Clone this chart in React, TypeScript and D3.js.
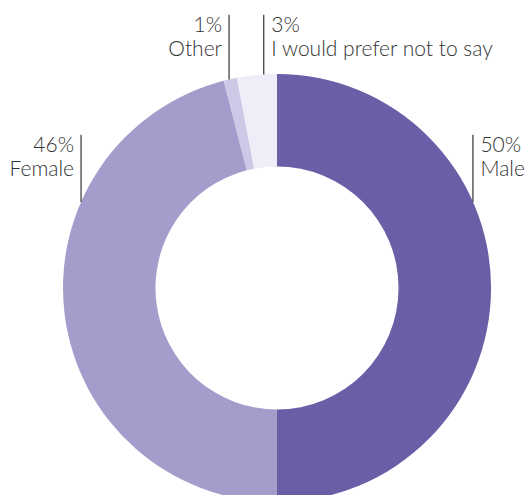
import React from "react";
import * as d3 from "d3";

const categories = ["Male", "Female", "Other", "I would prefer not to say"];
const values = [50, 46, 1, 3];
const colors = ["#6a5fa7", "#a49dcc", "#cdc8e6", "#efedf8"];

// label layout: angle (radians, clockwise from top) where the leader line meets the ring,
// text side, and label row (top or side)
const labelAngles = [1.157, -1.157, -0.226, -0.062];
const labelSides = ["right", "left", "left", "right"];
const labelRows = [1, 1, 0, 0];

const W = 528;
const H = 495;
const cx = 277;
const cy = 288;
const outerR = 214;
const innerR = 121.5;
const rowBaselines = [31.7, 151.7];
const lineH = 24;

export default function App() {
  const pie = d3
    .pie<number>()
    .sort(null)
    .value((d) => d)
    .startAngle(0)
    .endAngle(2 * Math.PI);
  const arcs = pie(values);
  const arcGen = d3.arc<d3.PieArcDatum<number>>().innerRadius(innerR).outerRadius(outerR);

  return (
    <svg
      width={W}
      height={H}
      style={{ position: "absolute", left: 0, top: 0, display: "block" }}
      fontFamily="Lato"
    >
      <g transform={`translate(${cx},${cy})`}>
        {arcs.map((a, i) => (
          <path key={i} d={arcGen(a) || ""} fill={colors[i]} />
        ))}
      </g>
      {categories.map((c, i) => {
        const ang = labelAngles[i];
        const lx = cx + outerR * Math.sin(ang);
        const ly = cy - outerR * Math.cos(ang);
        const b = rowBaselines[labelRows[i]];
        const right = labelSides[i] === "right";
        const tx = right ? lx + 7.5 : lx - 7;
        return (
          <g key={c}>
            <line x1={lx} x2={lx} y1={b - 17} y2={ly} stroke="#333" strokeWidth={1.2} />
            <text
              x={tx}
              y={b}
              textAnchor={right ? "start" : "end"}
              fontSize={21}
              fontWeight={300}
              fill="#333"
            >
              {values[i]}%
            </text>
            <text
              x={tx}
              y={b + lineH}
              textAnchor={right ? "start" : "end"}
              fontSize={21}
              fontWeight={300}
              fill="#333"
            >
              {c}
            </text>
          </g>
        );
      })}
    </svg>
  );
}
